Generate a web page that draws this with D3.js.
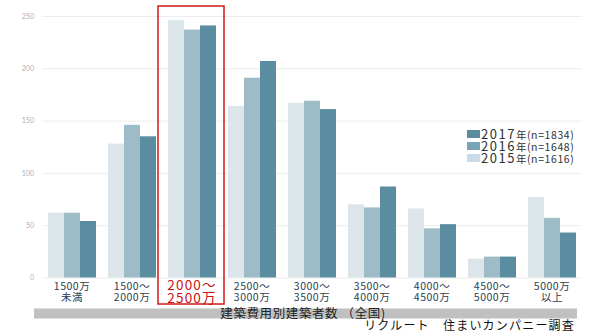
<!DOCTYPE html>
<html>
<head>
<meta charset="utf-8">
<script src="https://cdn.jsdelivr.net/npm/d3@7"></script>
<style>
  body { margin: 0; background: #fff; }
  svg { display: block; font-family: "Noto Sans CJK JP", "Noto Sans", sans-serif; }
</style>
</head>
<body>
<svg id="chart" width="600" height="332"></svg>
<script>
// categories (two lines each)
const categories = [
  ["1500万", "未満"], ["1500～", "2000万"], ["2000～", "2500万"],
  ["2500～", "3000万"], ["3000～", "3500万"], ["3500～", "4000万"],
  ["4000～", "4500万"], ["4500～", "5000万"], ["5000万", "以上"]
];
const years = ["2015", "2016", "2017"];
const values2015 = [62, 128, 246, 164, 167, 70, 66, 18, 77];
const values2016 = [62, 146, 237, 191, 169, 67, 47, 20, 57];
const values2017 = [54, 135, 241, 207, 161, 87, 51, 20, 43];
const yTicks = [0, 50, 100, 150, 200, 250];
const legendItems = [
  { year: "2017", note: "年(n=1834)" },
  { year: "2016", note: "年(n=1648)" },
  { year: "2015", note: "年(n=1616)" }
];
const highlightIndex = 2;
const axisTitle = "建築費用別建築者数 （全国)";
const sourceText = "リクルート　住まいカンパニー調査";

const colors = { "2015": "#dce6ea", "2016": "#9ebcc7", "2017": "#5a8d9f" };
const legendColors = { "2015": "#c8dbe7", "2016": "#7aa2b9", "2017": "#5b8c9e" };

const svg = d3.select("#chart");
const plotLeft = 42, plotRight = 582, plotBottom = 277.5, plotTop = 16;

const x = d3.scaleBand()
  .domain(d3.range(categories.length))
  .range([plotLeft, plotRight])
  .paddingInner(0.2)
  .paddingOuter(0.1);

const xInner = d3.scaleBand()
  .domain(years)
  .range([0, x.bandwidth()]);

const y = d3.scaleLinear().domain([0, 250]).range([plotBottom, plotTop]);

// gridlines + tick labels
const yAxis = d3.axisLeft(y)
  .tickValues(yTicks)
  .tickSize(-(plotRight - plotLeft))
  .tickPadding(8);

const gAxis = svg.append("g")
  .attr("transform", `translate(${plotLeft},0)`)
  .call(yAxis);
gAxis.select(".domain").remove();
gAxis.selectAll(".tick line").attr("stroke", "#ececec").attr("stroke-width", 1);
gAxis.selectAll(".tick text")
  .attr("fill", "#b0b0b0")
  .style("font-size", "7px")
  .style("font-family", "Lato, sans-serif");

// bars
const series = { "2015": values2015, "2016": values2016, "2017": values2017 };
const groups = svg.append("g")
  .selectAll("g")
  .data(categories.map((c, i) => i))
  .join("g")
  .attr("transform", i => `translate(${x(i)},0)`);

groups.selectAll("rect")
  .data(i => years.map(yr => ({ yr, v: series[yr][i] })))
  .join("rect")
  .attr("x", d => xInner(d.yr))
  .attr("width", xInner.bandwidth())
  .attr("y", d => y(d.v))
  .attr("height", d => y(0) - y(d.v))
  .attr("fill", d => colors[d.yr]);

// category labels, one text per line
const labelLines = [];
categories.forEach((c, i) => c.forEach((s, k) => labelLines.push({ s, i, k })));
svg.append("g")
  .selectAll("text")
  .data(labelLines)
  .join("text")
  .attr("text-anchor", "middle")
  .attr("x", d => x(d.i) + x.bandwidth() / 2)
  .attr("y", d => d.i === highlightIndex ? 289.5 + d.k * 13 : 290 + d.k * 11)
  .attr("fill", d => d.i === highlightIndex ? "#cc1111" : "#2a4050")
  .style("font-size", d => d.i === highlightIndex ? "13.5px" : "10.5px")
  .style("letter-spacing", d => d.i === highlightIndex ? "1.2px" : "0.5px")
  .text(d => d.s);

// highlight box
svg.append("rect")
  .attr("x", x(highlightIndex) - 10)
  .attr("y", 6)
  .attr("width", x.bandwidth() + 18)
  .attr("height", 298)
  .attr("fill", "none")
  .attr("stroke", "#d11a1a")
  .attr("stroke-width", 1.5);

// axis title band
svg.append("rect")
  .attr("x", 34).attr("y", 308.5)
  .attr("width", 543).attr("height", 10)
  .attr("fill", "#c0c0c0");
svg.append("text")
  .attr("x", 303).attr("y", 317.5)
  .attr("text-anchor", "middle")
  .attr("fill", "#222")
  .style("font-size", "12.5px")
  .style("letter-spacing", "0.6px")
  .text(axisTitle);

svg.append("text")
  .attr("x", 575).attr("y", 329.5)
  .attr("text-anchor", "end")
  .attr("fill", "#111")
  .style("font-size", "12px")
  .style("letter-spacing", "1.2px")
  .text(sourceText);

// legend
const legend = svg.append("g")
  .selectAll("g")
  .data(legendItems)
  .join("g")
  .attr("transform", (d, i) => `translate(467,${130 + i * 12})`);
legend.append("rect")
  .attr("width", 13).attr("height", 8)
  .attr("fill", d => legendColors[d.year]);
legend.append("text")
  .attr("x", 14).attr("y", 8.8)
  .attr("fill", "#333")
  .call(t => t.append("tspan").style("font-size", "13px").style("letter-spacing", "1.5px").text(d => d.year))
  .call(t => t.append("tspan").style("font-size", "10.5px").style("letter-spacing", "0.6px").text(d => d.note));
</script>
</body>
</html>
